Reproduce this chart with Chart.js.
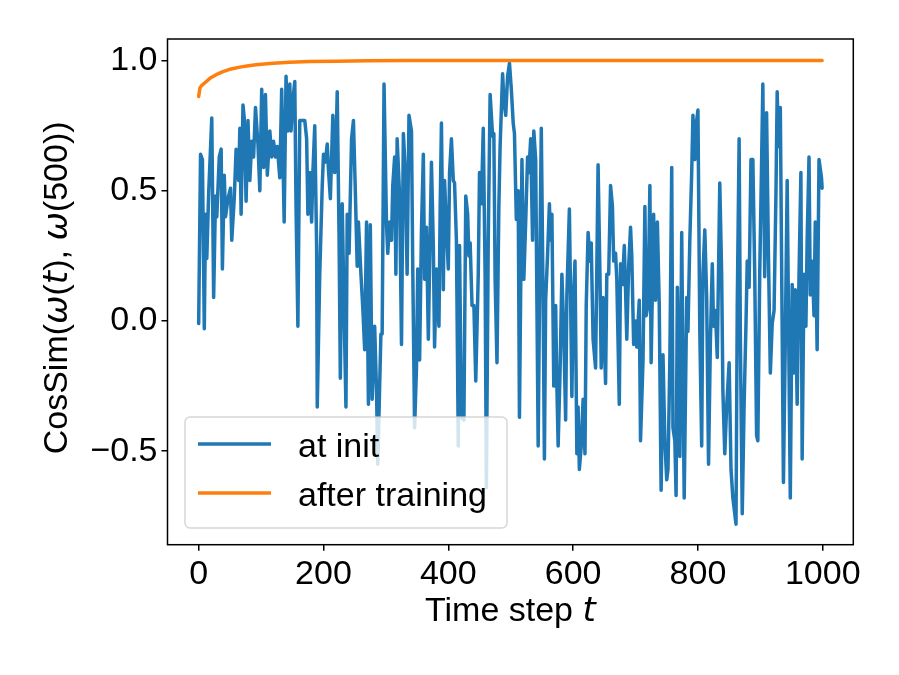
<!DOCTYPE html>
<html>
<head>
<meta charset="utf-8">
<script src="https://cdn.jsdelivr.net/npm/chart.js"></script>
<style>
  html, body { margin: 0; padding: 0; background: #fff; }
  #wrap { width: 899px; height: 675px; }
</style>
</head>
<body>
<div id="wrap"><canvas id="chart" width="899" height="675"></canvas></div>
<script>
// data
const initSteps = [0,3,6,9,11,13,16,21,24,27,29,33,36,38,41,43,47,51,53,57,60,64,66,68,71,73,76,79,82,85,88,91,95,98,101,104,107,110,114,117,120,123,126,130,133,137,140,143,146,148,151,154,156,159,162,167,170,173,175,178,181,183,186,189,190,194,198,200,203,206,208,211,215,218,221,222,225,227,230,233,236,238,241,245,248,251,254,256,260,263,266,269,272,275,278,282,285,287,292,294,297,301,303,306,309,311,314,316,318,322,325,328,331,334,337,341,343,346,349,351,354,357,360,362,365,368,370,373,376,378,381,385,387,389,392,394,397,400,402,405,408,410,413,416,418,421,425,428,431,433,435,438,441,444,448,450,453,456,459,461,464,467,471,473,475,478,481,483,487,489,492,495,498,501,504,506,509,512,514,518,521,524,527,529,532,535,537,540,544,547,549,552,554,556,559,562,564,566,569,572,574,576,579,582,585,588,590,594,596,598,600,603,606,608,610,613,616,619,621,624,627,629,632,636,640,643,645,648,652,654,657,660,663,665,668,670,674,676,679,682,684,686,689,692,694,697,700,702,706,708,712,715,717,720,723,725,729,732,735,738,741,744,747,750,752,755,758,760,763,765,767,771,774,776,778,782,784,787,790,792,795,798,800,803,806,808,811,814,817,820,823,825,828,831,835,838,840,843,846,850,853,856,861,863,866,868,871,874,877,879,882,885,888,891,894,896,899,902,904,907,910,913,916,919,922,925,927,929,932,934,937,940,943,946,948,951,954,956,959,962,965,967,970,973,975,978,980,983,986,988,991,994,998,999];
const initValues = [-0.01,0.64,0.62,-0.03,0.41,0.24,0.49,0.78,0.09,0.48,0.40,0.63,0.66,0.20,0.56,0.40,0.47,0.51,0.31,0.47,0.66,0.54,0.74,0.41,0.83,0.78,0.46,0.77,0.54,0.69,0.63,0.82,0.68,0.50,0.89,0.59,0.87,0.56,0.73,0.63,0.69,0.63,0.67,0.55,0.89,0.38,0.94,0.73,0.91,0.73,0.85,0.92,0.44,-0.02,0.77,0.77,0.77,0.70,0.41,0.57,0.38,0.57,0.75,0.29,-0.33,0.18,0.52,0.64,0.61,0.68,0.58,0.47,0.79,0.57,0.77,0.88,0.31,-0.22,0.45,0.04,-0.33,0.41,0.26,0.70,0.77,0.50,0.21,0.38,0.18,0.05,-0.11,0.38,-0.32,0.37,-0.30,-0.02,-0.27,-0.55,-0.05,-0.05,0.91,0.37,0.26,0.38,0.31,0.52,0.63,0.18,0.70,0.48,-0.09,0.72,0.58,0.18,0.79,0.73,0.21,-0.41,-0.18,0.20,-0.15,0.35,0.64,0.16,0.36,-0.07,0.21,0.61,0.29,-0.10,0.20,-0.02,0.44,0.76,0.12,0.54,0.36,0.20,0.57,0.70,0.54,0.53,0.31,-0.48,0.29,-0.37,-0.38,0.48,0.41,0.25,0.30,0.06,0.06,-0.23,0.18,0.57,0.45,0.74,0.18,-0.64,0.31,0.87,0.71,0.72,0.16,-0.16,0.44,0.67,0.95,0.85,0.79,0.94,0.99,0.89,0.76,0.72,0.39,0.50,-0.37,0.62,0.16,0.38,0.63,0.57,0.70,0.31,0.73,0.62,-0.48,0.31,0.74,0.06,-0.53,0.08,0.25,0.45,0.31,0.41,-0.25,0.06,-0.25,-0.48,-0.20,0.18,-0.04,-0.38,0.10,0.43,0.08,-0.29,0.06,0.23,-0.51,-0.33,-0.57,-0.48,-0.30,-0.51,0.06,0.34,0.23,0.30,-0.07,-0.18,0.60,0.18,-0.18,0.09,-0.24,0.18,0.18,0.52,0.44,0.23,0.26,0.16,-0.32,0.22,0.14,0.29,0.12,-0.07,0.21,0.36,0.25,-0.09,0.00,-0.10,0.08,-0.46,-0.15,0.44,0.02,0.06,0.52,-0.16,0.41,0.08,0.38,0.06,-0.65,-0.13,-0.46,-0.61,-0.57,-0.15,0.59,-0.41,-0.46,-0.67,0.13,-0.52,0.34,-0.20,-0.68,0.09,-0.04,0.31,0.57,0.79,0.62,0.77,0.81,-0.04,-0.48,0.18,0.35,0.09,-0.55,-0.07,0.22,-0.02,0.04,-0.14,0.53,0.18,-0.27,-0.51,-0.33,-0.16,-0.57,-0.68,-0.78,0.06,0.70,-0.07,-0.74,-0.32,-0.01,0.23,0.13,0.62,0.62,0.18,-0.44,-0.46,0.18,0.61,0.91,0.17,0.80,0.25,-0.20,-0.01,0.04,0.49,0.88,0.67,0.82,0.25,-0.62,-0.07,0.54,-0.20,-0.68,0.14,-0.20,0.12,-0.32,0.18,0.57,-0.53,0.18,-0.02,0.31,0.63,0.10,0.23,0.02,0.38,-0.11,0.62,0.55,0.51];

const afterSteps = [0,2,5,10,18,28,39,52,66,80,92,105,119,146,178,220,270,330,400,500,600,700,800,900,999];
const afterValues = [0.862,0.895,0.905,0.915,0.932,0.946,0.958,0.968,0.975,0.980,0.984,0.987,0.990,0.994,0.997,0.998,0.999,1.0,1.0,1.0,1.0,1.0,1.0,1.0,1.0];

const xTicks = [0, 200, 400, 600, 800, 1000];
const yTicks = [-0.5, 0.0, 0.5, 1.0];
const seriesLabels = ['at init', 'after training'];
const seriesColors = ['#1f77b4', '#ff7f0e'];

const FONT = '"Liberation Sans", Arial, sans-serif';
const MATH = '"DejaVu Sans", sans-serif';
const SIZE = 34;

// texte mixte (normal + italique)
function drawRuns(ctx, runs, x, y) {
    let total = 0;
    runs.forEach(r => { ctx.font = r.font; total += ctx.measureText(r.text).width; });
    let cx = x - total / 2;
    ctx.textAlign = 'left';
    runs.forEach(r => {
        ctx.font = r.font;
        ctx.fillText(r.text, cx, y);
        cx += ctx.measureText(r.text).width;
    });
}

const norm = SIZE + 'px ' + FONT;
const ital = 'italic ' + SIZE + 'px ' + MATH;

const decorPlugin = {
    id: 'decor',
    afterDatasetsDraw(chart) {
        const ctx = chart.ctx;
        ctx.save();
        // legende
        const bx = 185, by = 417, bw = 322, bh = 111, r = 5;
        ctx.beginPath();
        ctx.roundRect(bx, by, bw, bh, r);
        ctx.fillStyle = 'rgba(255,255,255,0.8)';
        ctx.fill();
        ctx.lineWidth = 1.5;
        ctx.strokeStyle = 'rgba(204,204,204,0.8)';
        ctx.stroke();
        const rows = [444, 493];
        chart.data.datasets.forEach((ds, i) => {
            const yy = rows[i];
            ctx.beginPath();
            ctx.moveTo(198, yy);
            ctx.lineTo(271, yy);
            ctx.strokeStyle = ds.borderColor;
            ctx.lineWidth = 3.5;
            ctx.stroke();
            ctx.fillStyle = '#000';
            ctx.font = norm;
            ctx.textAlign = 'left';
            ctx.textBaseline = 'alphabetic';
            ctx.fillText(ds.label, 298, yy + 12.5);
        });
        ctx.restore();
    },
    afterDraw(chart) {
        const ctx = chart.ctx;
        const a = chart.chartArea;
        ctx.save();
        ctx.strokeStyle = '#000';
        ctx.lineWidth = 1.5;
        ctx.strokeRect(a.left, a.top, a.right - a.left, a.bottom - a.top);

        ctx.fillStyle = '#000';
        ctx.textBaseline = 'alphabetic';
        const cx = (a.left + a.right) / 2;
        drawRuns(ctx, [
            { text: 'Time step ', font: norm },
            { text: 't', font: ital }
        ], cx, 621);

        const cy = (a.top + a.bottom) / 2 - 4;
        ctx.translate(67, cy);
        ctx.rotate(-Math.PI / 2);
        drawRuns(ctx, [
            { text: 'CosSim(', font: norm },
            { text: 'ω', font: ital },
            { text: '(', font: norm },
            { text: 't', font: ital },
            { text: '), ', font: norm },
            { text: 'ω', font: ital },
            { text: '(500))', font: norm }
        ], 0, 0);
        ctx.restore();
    }
};

const ctx = document.getElementById('chart').getContext('2d');
new Chart(ctx, {
    type: 'line',
    data: {
        datasets: [
            {
                label: seriesLabels[0],
                data: initSteps.map((t, i) => ({ x: t, y: initValues[i] })),
                borderColor: seriesColors[0],
                borderWidth: 3.5,
                borderJoinStyle: 'round',
                borderCapStyle: 'round',
                pointRadius: 0,
                tension: 0,
                order: 1
            },
            {
                label: seriesLabels[1],
                data: afterSteps.map((t, i) => ({ x: t, y: afterValues[i] })),
                borderColor: seriesColors[1],
                borderWidth: 3.5,
                borderJoinStyle: 'round',
                borderCapStyle: 'round',
                pointRadius: 0,
                tension: 0,
                order: 0
            }
        ]
    },
    options: {
        responsive: false,
        animation: false,
        devicePixelRatio: 1,
        layout: { padding: { left: 0, top: 39, right: 45.7, bottom: 0 } },
        plugins: {
            legend: { display: false },
            tooltip: { enabled: false }
        },
        scales: {
            x: {
                type: 'linear',
                min: -49.95,
                max: 1048.95,
                afterBuildTicks: s => { s.ticks = xTicks.map(v => ({ value: v })); },
                afterFit: s => { s.height = 130.3; },
                grid: { drawOnChartArea: false, drawTicks: true, tickLength: 6, color: '#000', lineWidth: 1.5 },
                border: { display: false },
                ticks: {
                    autoSkip: false,
                    maxRotation: 0,
                    padding: 4,
                    color: '#000',
                    font: { family: FONT, size: SIZE },
                    callback: v => String(v)
                }
            },
            y: {
                type: 'linear',
                min: -0.859,
                max: 1.083,
                afterBuildTicks: s => { s.ticks = yTicks.map(v => ({ value: v })); },
                afterFit: s => { s.width = 167.5; },
                grid: { drawOnChartArea: false, drawTicks: true, tickLength: 6, color: '#000', lineWidth: 1.5 },
                border: { display: false },
                ticks: {
                    autoSkip: false,
                    padding: 4,
                    color: '#000',
                    font: { family: FONT, size: SIZE },
                    callback: v => (v < 0 ? '\u2212' : '') + Math.abs(v).toFixed(1)
                }
            }
        }
    },
    plugins: [decorPlugin]
});
</script>
</body>
</html>
